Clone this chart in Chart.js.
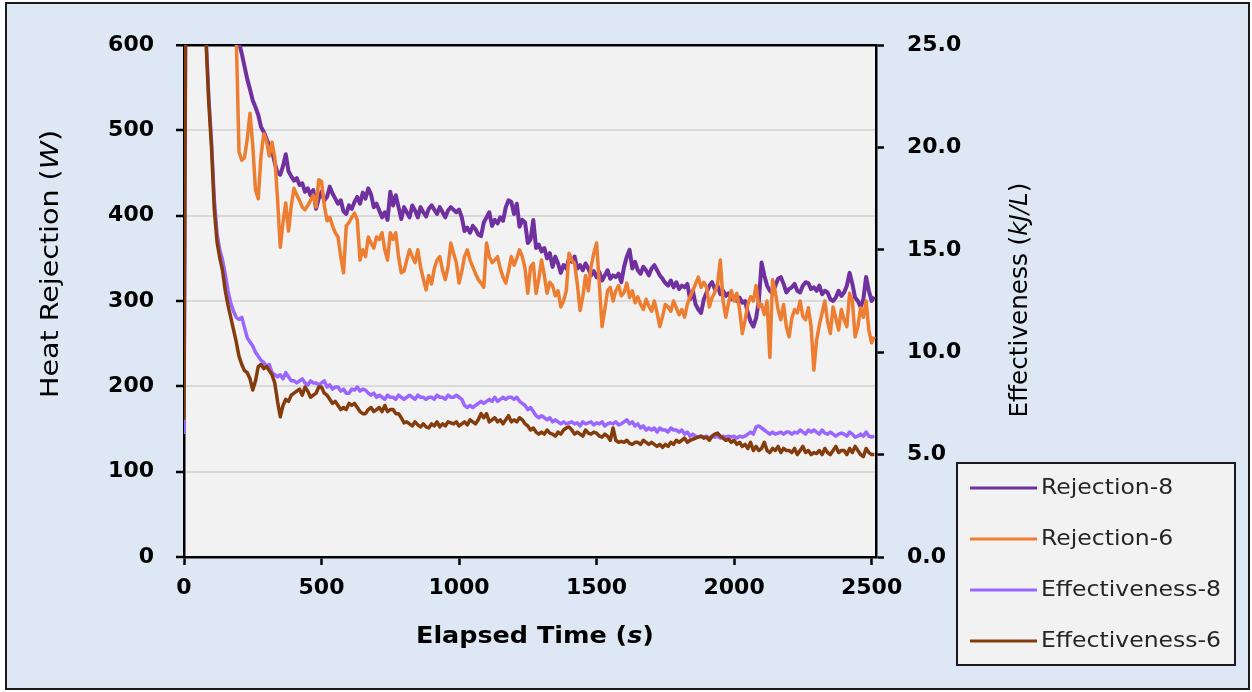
<!DOCTYPE html>
<html>
<head>
<meta charset="utf-8">
<script src="https://cdn.jsdelivr.net/npm/chart.js@4/dist/chart.umd.min.js"></script>
<style>
  html, body { margin: 0; padding: 0; background: #ffffff; }
  #wrap { width: 1252px; height: 692px; position: relative; }
</style>
</head>
<body>
<div id="wrap"><canvas id="heatChart"></canvas></div>
<script>
// logger sampled every 10 s
const timeStep = 10;
const timeTicks = [0, 500, 1000, 1500, 2000, 2500];

// heat rejection, W
const rejection8 = [
    1400, 1350, 1300, 1200, 1100, 1000, 950, 900, 850, 800,
    770, 740, 720, 700, 680, 660, 645, 630, 620, 612,
    603, 590, 575, 560, 548, 535, 527, 518, 504, 498,
    490, 482, 476, 462, 450, 448, 458, 472, 452, 446,
    441, 444, 436, 438, 428, 432, 424, 430, 408, 420,
    428, 418, 422, 434, 426, 420, 414, 418, 405, 402,
    412, 408, 416, 422, 414, 427, 420, 432, 425, 410,
    414, 406, 398, 404, 395, 428, 412, 424, 410, 396,
    410, 404, 398, 412, 406, 398, 410, 404, 399, 408,
    412, 407, 402, 410, 404, 398, 406, 410, 407, 404,
    407, 398, 382, 386, 380, 388, 384, 378, 376, 392,
    398, 404, 388, 395, 391, 398, 394, 410, 418, 416,
    402, 414, 387, 395, 392, 368, 372, 395, 362, 366,
    358, 362, 350, 356, 340, 352, 344, 333, 342, 338,
    350, 346, 352, 338, 342, 336, 344, 338, 330, 335,
    328, 334, 324, 330, 336, 326, 330, 328, 332, 322,
    340, 352, 360, 338, 346, 336, 332, 340, 336, 330,
    338, 342, 336, 330, 326, 321, 318, 324, 316, 322,
    314, 318, 316, 320, 302, 312, 296, 290, 286, 302,
    310, 318, 322, 314, 318, 308, 312, 306, 309, 302,
    305, 300, 304, 298, 300, 286, 276, 270, 280, 300,
    345, 330, 318, 312, 309, 318, 326, 328, 320, 310,
    314, 316, 320, 312, 310, 318, 322, 321, 314, 316,
    312, 318, 308, 312, 310, 302, 300, 304, 312, 306,
    310, 318, 333, 320, 304, 300, 293, 302, 328, 312,
    300, 305
];

const rejection6 = [
    1500, 1450, 1400, 1300, 1200, 1100, 1050, 1000, 950, 900,
    860, 820, 790, 760, 730, 700, 680, 660, 640, 610,
    475, 465, 468, 490, 520, 482, 430, 420, 470, 496,
    488, 470, 486, 468, 420, 363, 392, 415, 382, 412,
    432, 424, 418, 410, 407, 412, 418, 424, 410, 442,
    440, 412, 394, 398, 388, 380, 375, 352, 333, 388,
    392, 398, 403, 395, 348, 360, 352, 375, 368, 362,
    375, 372, 380, 360, 348, 380, 372, 380, 352, 333,
    335, 348, 360, 352, 345, 360, 340, 326, 313, 330,
    320, 338, 348, 352, 336, 325, 340, 368, 356, 345,
    321, 335, 352, 360, 348, 340, 332, 325, 321, 316,
    368, 352, 345, 348, 352, 338, 328, 321, 335, 352,
    342, 350, 360, 352, 338, 309, 340, 344, 309, 326,
    348, 330, 309, 322, 318, 306, 312, 293, 300, 312,
    356, 348, 344, 320, 289, 305, 330, 312, 340, 356,
    368, 320, 270, 290, 312, 316, 300, 312, 318, 306,
    310, 321, 304, 312, 298, 305, 296, 290, 302, 294,
    288, 300, 286, 270, 282, 296, 293, 288, 300, 292,
    284, 290, 281, 296, 305, 312, 320, 328, 316, 322,
    316, 293, 304, 310, 320, 348, 300, 281, 298, 312,
    300, 309, 290, 262, 278, 296, 305, 300, 318, 293,
    296, 284, 300, 234, 325, 310, 290, 278, 296, 270,
    258, 280, 290, 286, 300, 282, 278, 292, 270, 219,
    254, 272, 286, 300, 276, 262, 293, 280, 266, 290,
    278, 270, 309, 300, 258, 270, 292, 281, 300, 266,
    251, 258
];

// effectiveness, kJ/L
const effectiveness8 = [
    6.0, 40, 60, 60, 55, 45, 36, 30, 25.5, 22.5,
    20.3, 17.5, 15.8, 15.0, 14.5, 13.8, 13.0, 12.4, 12.0, 11.7,
    11.6, 11.7, 11.2, 10.7, 10.5, 10.3, 10.0, 9.8, 9.6, 9.5,
    9.3, 9.4, 9.0, 8.9, 8.8, 8.9, 8.7, 9.0, 8.8, 8.6,
    8.6, 8.5, 8.6, 8.7, 8.5, 8.4, 8.6, 8.5, 8.5, 8.4,
    8.5, 8.6, 8.3, 8.4, 8.2, 8.3, 8.3, 8.1, 8.2, 8.0,
    8.0, 8.2, 8.15, 8.3, 8.1, 8.2, 8.15, 8.0, 7.9, 8.0,
    7.8, 7.9, 7.8, 7.7, 7.9, 7.8, 7.8, 7.7, 7.9, 7.8,
    7.7, 7.8, 7.9, 7.8, 7.7, 7.9, 7.8, 7.8, 7.7, 7.8,
    7.8, 7.7, 7.9, 7.8, 7.8, 7.7, 7.9, 7.8, 7.8, 7.9,
    7.8, 7.7, 7.4, 7.3, 7.4, 7.3, 7.4, 7.5, 7.6, 7.5,
    7.6, 7.7, 7.6, 7.8, 7.6, 7.7, 7.8, 7.7, 7.8, 7.8,
    7.7, 7.8, 7.6, 7.5, 7.4, 7.2, 7.3, 7.1, 6.9, 6.8,
    6.9, 6.8, 6.7, 6.8, 6.6, 6.7, 6.6, 6.5, 6.6, 6.5,
    6.55, 6.6, 6.5, 6.55, 6.4, 6.6, 6.5, 6.55, 6.6, 6.45,
    6.55, 6.5, 6.6, 6.4, 6.5, 6.55, 6.5, 6.6, 6.45, 6.5,
    6.6, 6.7, 6.5, 6.6, 6.4, 6.5, 6.3, 6.4, 6.2, 6.3,
    6.2, 6.3, 6.1, 6.3, 6.2, 6.2, 6.1, 6.3, 6.2, 6.2,
    6.1, 6.2, 6.0, 6.1, 5.9, 6.0, 5.9, 5.85, 5.9, 5.85,
    5.9, 5.8, 5.9, 5.85, 5.9, 5.8, 5.9, 5.85, 5.9, 5.85,
    5.9, 5.8, 5.9, 5.85, 5.9, 6.0, 6.1, 6.0, 6.35, 6.4,
    6.3, 6.2, 6.1, 6.0, 6.1, 6.0, 6.05, 6.1, 6.0, 6.1,
    6.1, 6.0, 6.1, 6.05, 6.2, 6.1, 6.0, 6.2, 6.1, 6.2,
    6.1, 6.0, 6.2, 6.05, 6.0, 6.1, 6.0, 5.9, 6.0, 6.05,
    6.0, 5.9, 6.1, 6.0, 5.85, 5.9, 6.0, 5.9, 6.1, 5.9,
    5.86, 5.9
];

const effectiveness6 = [
    6.7, 40, 60, 60, 55, 45, 36, 30, 25.2, 22.2,
    20.0, 17.0, 15.4, 14.6, 14.0, 13.0, 12.3, 11.7, 11.1, 10.5,
    9.8, 9.4, 9.1, 9.0, 8.7, 8.15, 8.6, 9.3, 9.4, 9.2,
    9.3, 9.1, 8.9, 8.5, 7.6, 6.85, 7.4, 7.7, 7.6, 7.9,
    8.0, 8.1, 8.2, 7.9, 8.3, 8.1, 7.8, 7.9, 8.0, 8.3,
    8.3, 8.0, 7.9, 7.7, 7.5, 7.6, 7.4, 7.2, 7.3, 7.2,
    7.5, 7.4, 7.5, 7.3, 7.1, 7.0, 7.0, 7.2, 7.3, 7.1,
    7.2, 7.3, 7.1, 7.4, 7.1, 7.2, 7.2, 7.0, 7.0, 6.8,
    6.55, 6.6, 6.5, 6.4, 6.6, 6.45, 6.35, 6.5, 6.35, 6.3,
    6.5, 6.4, 6.6, 6.35, 6.5, 6.4, 6.6, 6.55, 6.5, 6.6,
    6.4, 6.5, 6.6, 6.45, 6.7, 6.6, 6.5, 6.7, 7.0, 6.8,
    7.0, 6.6, 6.7, 6.8, 6.6, 6.7, 6.5, 6.7, 6.9, 6.6,
    6.7, 6.6, 6.8, 6.7, 6.5, 6.4, 6.2, 6.3, 6.1, 6.0,
    6.1, 6.0, 6.2, 6.05, 6.0, 5.9, 6.1, 6.0, 6.2, 6.3,
    6.35, 6.2, 6.0, 6.1, 6.0, 5.9, 6.2, 6.05, 6.0, 6.1,
    6.05, 5.9, 5.85, 6.0, 5.9, 5.7, 6.3, 5.7, 5.6, 5.65,
    5.6, 5.7, 5.55, 5.5, 5.6, 5.6, 5.5, 5.7, 5.6, 5.5,
    5.6, 5.5, 5.4, 5.5, 5.35, 5.5, 5.4, 5.6, 5.5, 5.7,
    5.6, 5.7, 5.8, 5.6, 5.7, 5.75, 5.8, 5.85, 5.9, 5.8,
    5.85, 5.7, 5.9, 6.0, 6.05, 5.9, 5.8, 5.7, 5.75, 5.6,
    5.7, 5.5, 5.6, 5.4, 5.5, 5.3, 5.6, 5.2, 5.4, 5.2,
    5.3, 5.6, 5.2, 5.1, 5.3, 5.2, 5.4, 5.1, 5.3, 5.2,
    5.2, 5.1, 5.3, 5.0, 5.2, 5.4, 5.1, 5.2, 5.0, 5.1,
    5.05, 5.2, 5.0, 5.3, 5.1, 5.0, 5.2, 5.4, 5.1, 5.2,
    5.2, 5.0, 5.3, 5.1, 5.4, 5.2, 5.0, 4.9, 5.3, 5.1,
    5.0, 5.0
];

const elapsedTime = rejection8.map((_, i) => i * timeStep);

const seriesNames = ['Rejection-8', 'Rejection-6', 'Effectiveness-8', 'Effectiveness-6'];
const seriesColors = ['#7030a0', '#ed7d31', '#9966ff', '#843c0c'];

const tickFont = { family: 'DejaVu Sans', size: 22, weight: 'bold' };

// draws a run of mixed-style text centred on (x, y), squeezed to a given width
function drawRuns(ctx, runs, x, y, width, angle) {
    ctx.save();
    ctx.translate(x, y);
    ctx.rotate(angle);
    let total = 0;
    runs.forEach(r => { ctx.font = r.font; r.w = ctx.measureText(r.text).width; total += r.w; });
    ctx.scale(width / total, 1);
    ctx.textBaseline = 'middle';
    ctx.textAlign = 'left';
    ctx.fillStyle = '#000000';
    let cur = -total / 2;
    runs.forEach(r => { ctx.font = r.font; ctx.fillText(r.text, cur, 0); cur += r.w; });
    ctx.restore();
}

const frame = {
    id: 'frame',
    beforeDraw(chart) {
        const ctx = chart.ctx;
        const a = chart.chartArea;
        ctx.save();
        ctx.fillStyle = '#ffffff';
        ctx.fillRect(0, 0, chart.width, chart.height);
        ctx.fillStyle = '#dde8f4';
        ctx.fillRect(6, 3, 1243, 686);
        ctx.strokeStyle = '#1a1a1a';
        ctx.lineWidth = 2;
        ctx.strokeRect(6, 3, 1243, 686);
        ctx.fillStyle = '#f2f2f2';
        ctx.fillRect(a.left, a.top, a.right - a.left, a.bottom - a.top);
        ctx.restore();
    },
    afterDraw(chart) {
        const ctx = chart.ctx;
        const reg = '24px "DejaVu Sans"';
        const ita = 'italic 24px "DejaVu Sans"';
        drawRuns(ctx, [
            { text: 'Heat Rejection (', font: reg },
            { text: 'W', font: ita },
            { text: ')', font: reg }
        ], 52, 264, 268, -Math.PI / 2);
        drawRuns(ctx, [
            { text: 'Effectiveness (', font: reg },
            { text: 'kJ/L', font: ita },
            { text: ')', font: reg }
        ], 1021, 300, 235, -Math.PI / 2);
        drawRuns(ctx, [
            { text: 'Elapsed Time (', font: 'bold 23px "DejaVu Sans"' },
            { text: 's', font: 'italic bold 23px "DejaVu Sans"' },
            { text: ')', font: 'bold 23px "DejaVu Sans"' }
        ], 535, 637, 238, 0);

        // legend box
        ctx.save();
        ctx.fillStyle = '#f2f2f2';
        ctx.fillRect(957, 463, 278, 202);
        ctx.strokeStyle = '#1a1a1a';
        ctx.lineWidth = 2;
        ctx.strokeRect(957, 463, 278, 202);
        ctx.font = '21px "DejaVu Sans"';
        const sx = 180 / ctx.measureText('Effectiveness-8').width;
        chart.data.datasets.forEach((ds, i) => {
            const y = 488 + i * 51;
            ctx.strokeStyle = ds.borderColor;
            ctx.lineWidth = 3;
            ctx.beginPath();
            ctx.moveTo(970, y);
            ctx.lineTo(1037, y);
            ctx.stroke();
            ctx.save();
            ctx.translate(1041, y);
            ctx.scale(sx, 1);
            ctx.fillStyle = '#262626';
            ctx.textBaseline = 'middle';
            ctx.fillText(ds.label, 0, 1);
            ctx.restore();
        });
        ctx.restore();
    }
};

const seriesData = [rejection8, rejection6, effectiveness8, effectiveness6];
const datasets = seriesData.map((values, i) => ({
    label: seriesNames[i],
    data: values,
    borderColor: seriesColors[i],
    backgroundColor: seriesColors[i],
    borderWidth: i === 0 ? 4 : 3.5,
    pointRadius: 0,
    tension: 0,
    borderJoinStyle: 'round',
    yAxisID: i < 2 ? 'y' : 'y2',
    order: 4 - i
}));

new Chart(document.getElementById('heatChart'), {
    type: 'line',
    data: { labels: elapsedTime, datasets: datasets },
    options: {
        responsive: true,
        maintainAspectRatio: false,
        animation: false,
        layout: { padding: { top: 45, left: 0, right: 0, bottom: 0 } },
        plugins: { legend: { display: false }, tooltip: { enabled: false } },
        scales: {
            x: {
                type: 'linear',
                min: 0,
                max: 2516,
                afterFit: s => { s.height = 135; },
                afterBuildTicks: s => { s.ticks = timeTicks.map(v => ({ value: v })); },
                ticks: { font: tickFont, color: '#000', padding: 10, maxRotation: 0, callback: v => String(v) },
                grid: { drawOnChartArea: false, drawTicks: true, tickLength: 8, tickColor: '#000', tickWidth: 2.5 },
                border: { display: true, color: '#000', width: 2.5 }
            },
            y: {
                position: 'left',
                min: 0,
                max: 600,
                afterFit: s => { s.width = 184; },
                ticks: { stepSize: 100, font: tickFont, color: '#000', padding: 22 },
                grid: {
                    color: c => (c.tick && c.tick.value === 600 ? '#000' : '#d9d9d9'),
                    lineWidth: c => (c.tick && c.tick.value === 600 ? 2.5 : 2),
                    tickLength: 8, tickColor: '#000', tickWidth: 2.5
                },
                border: { display: true, color: '#000', width: 2.5 }
            },
            y2: {
                position: 'right',
                min: 0,
                max: 25,
                afterFit: s => { s.width = 376; },
                ticks: { stepSize: 5, font: tickFont, color: '#000', padding: 23, callback: v => v.toFixed(1) },
                grid: { drawOnChartArea: false, tickLength: 8, tickColor: '#000', tickWidth: 2.5 },
                border: { display: true, color: '#000', width: 2.5 }
            }
        }
    },
    plugins: [frame]
});
</script>
</body>
</html>
